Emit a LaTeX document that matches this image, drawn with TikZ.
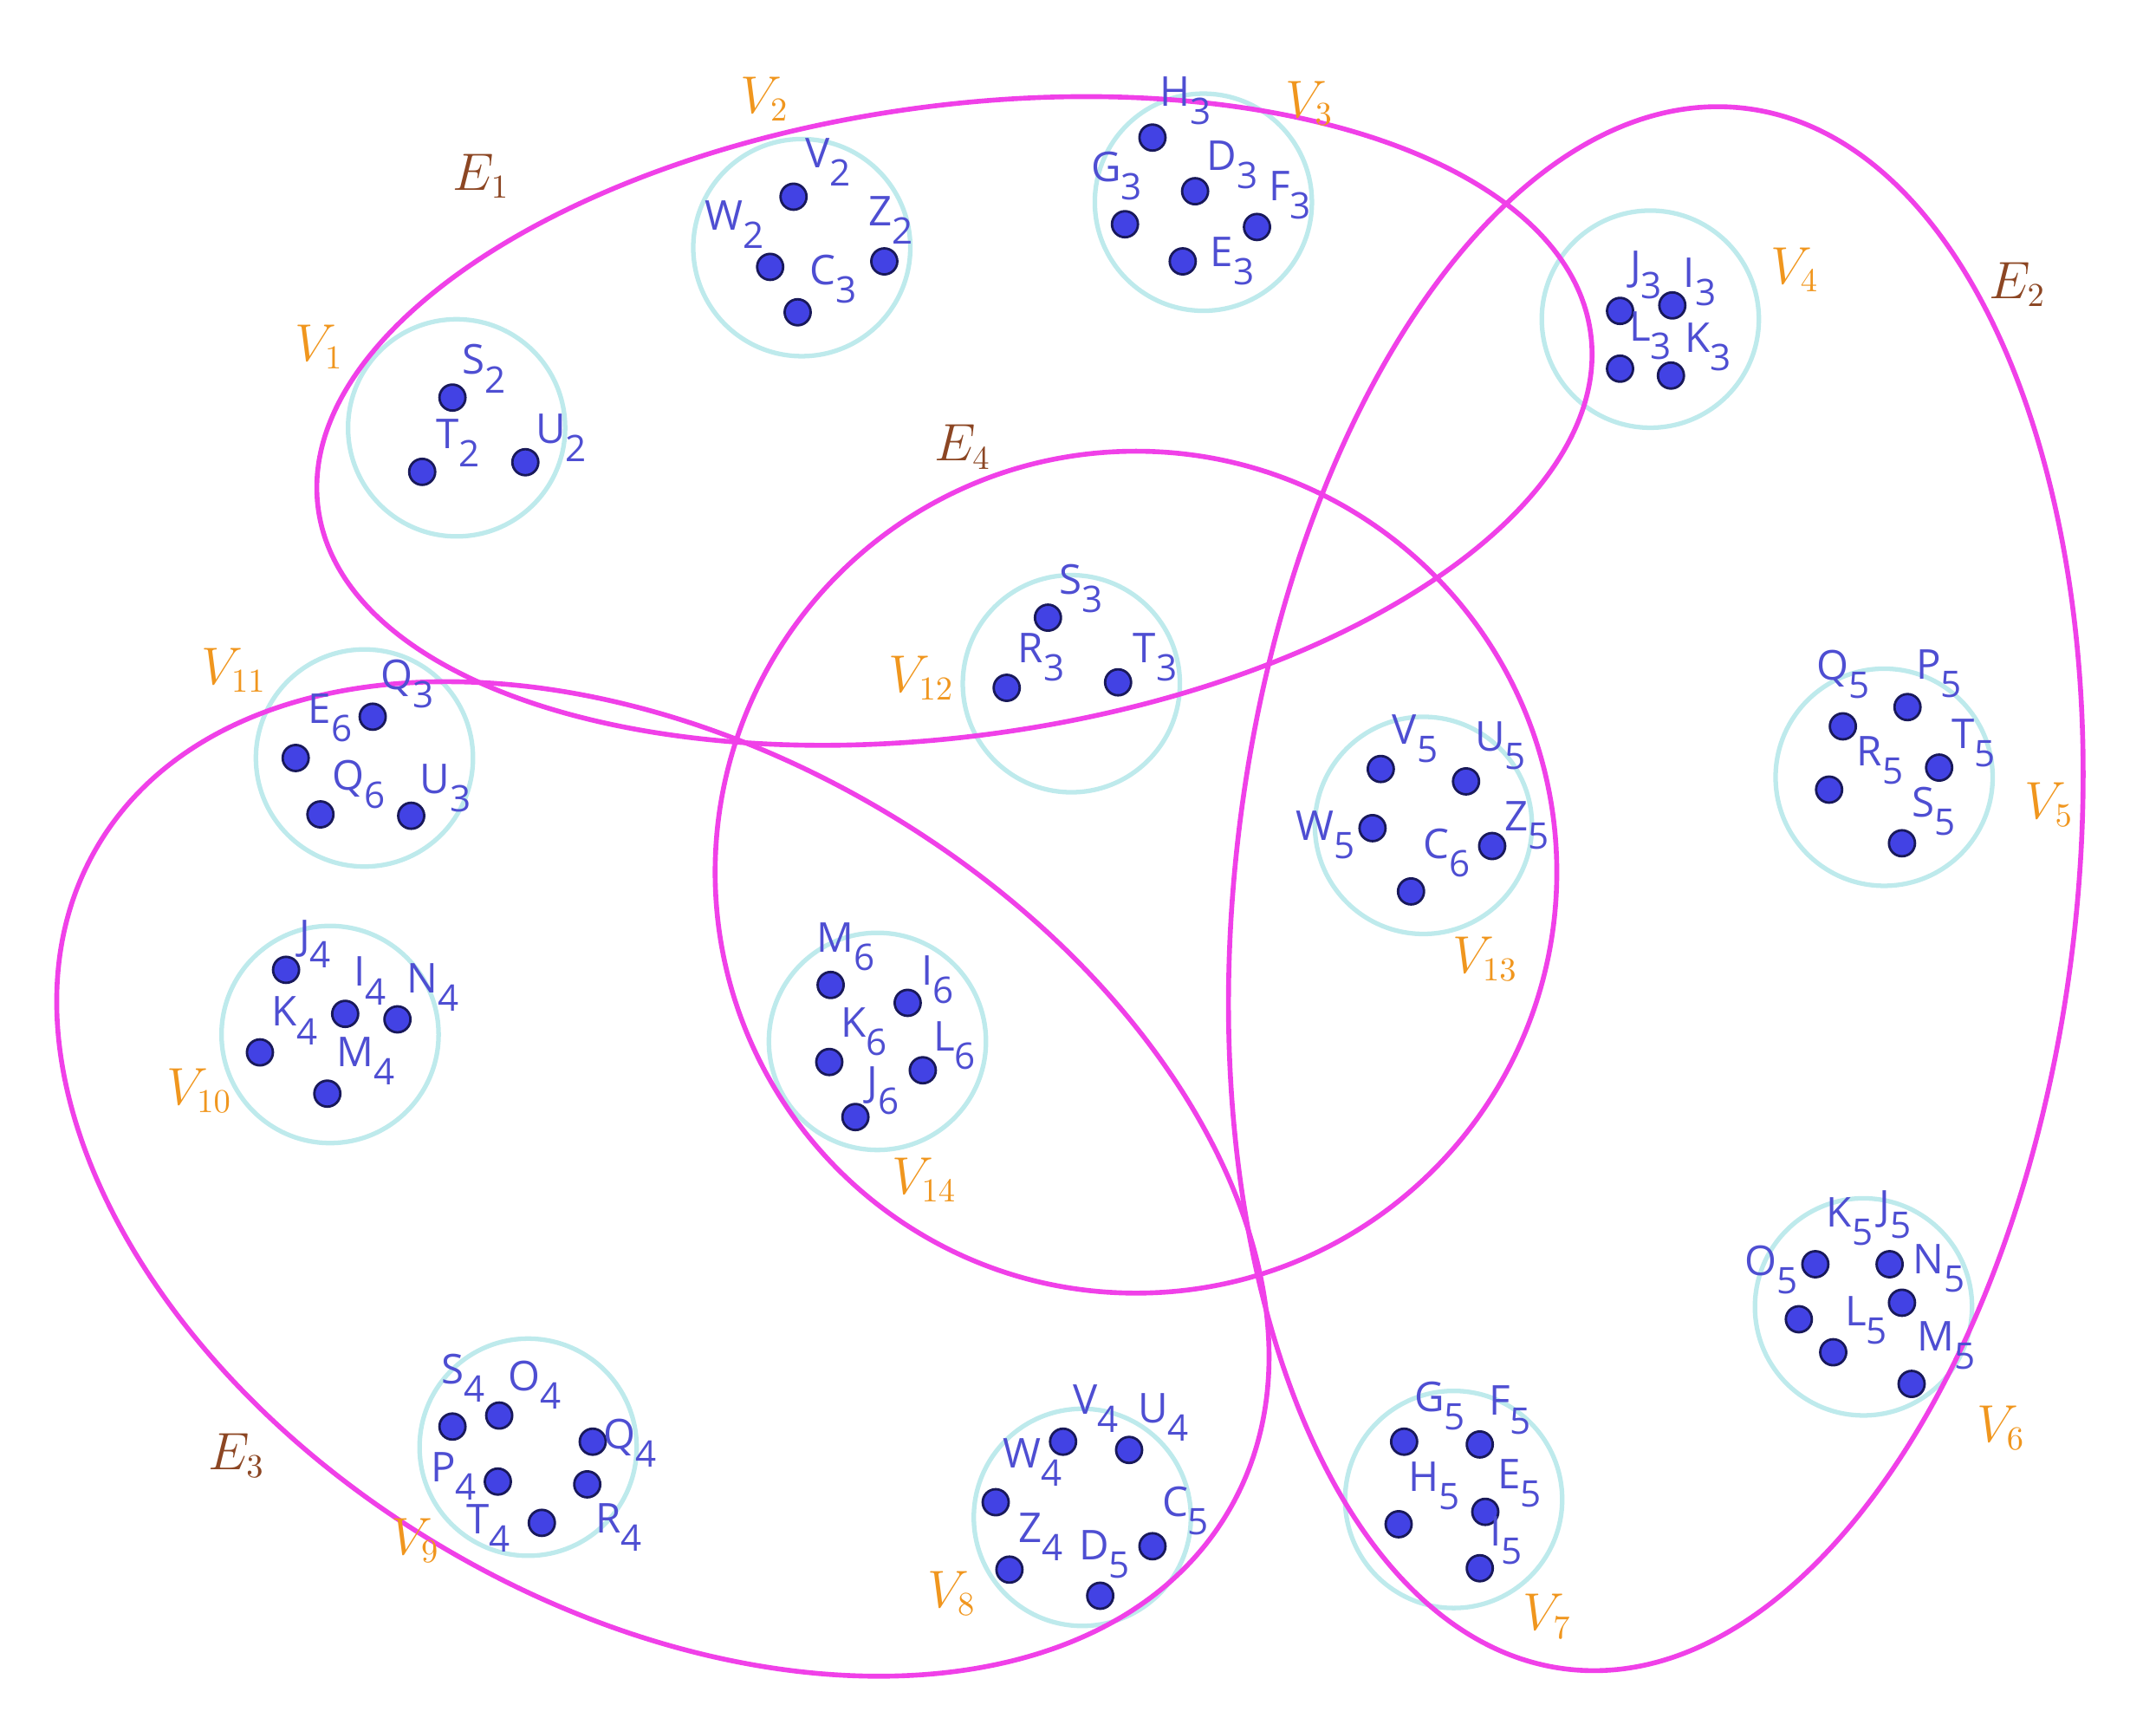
\documentclass[tikz,border=0pt]{standalone}
\usepackage{fontspec}
\setsansfont{Open Sans}
\definecolor{setcyan}{RGB}{190,234,236}
\definecolor{hypermag}{RGB}{240,64,232}
\definecolor{dotblue}{RGB}{66,66,228}
\definecolor{dotedge}{RGB}{25,25,90}
\definecolor{ptblue}{RGB}{78,78,210}
\definecolor{vorange}{RGB}{240,150,30}
\definecolor{ebrown}{RGB}{140,70,35}
\newcommand{\ptsub}[1]{\raisebox{-6pt}{\fontsize{12}{12}\selectfont #1}}

\begin{document}
\begin{tikzpicture}
[x=0.15871mm, y=-0.15871mm,
 set/.style={circle, draw=setcyan, line width=1.5pt, minimum size=25.05mm, inner sep=0pt},
 hyper/.style={draw=hypermag, line width=1.6pt},
 dot/.style={circle, fill=dotblue, draw=dotedge, line width=0.8pt, minimum size=3mm, inner sep=0pt},
 lbl/.style={text=ptblue, font=\sffamily\fontsize{13.5}{15}\selectfont, inner sep=0pt},
 vlbl/.style={text=vorange, font=\fontsize{16}{18}\selectfont, inner sep=0pt},
 elbl/.style={text=ebrown, font=\fontsize{16}{18}\selectfont, inner sep=0pt}]
\useasboundingbox (0,0) rectangle (1567.7,1248.5);

% vertex sets
\node[set] (set1) at (332,311) {};
\node[set] (set2) at (583,180) {};
\node[set] (set3) at (875,147) {};
\node[set] (set4) at (1200,232) {};
\node[set] (set5) at (1370,565) {};
\node[set] (set6) at (1355,950) {};
\node[set] (set7) at (1057,1090) {};
\node[set] (set8) at (787,1103) {};
\node[set] (set9) at (384,1052) {};
\node[set] (set10) at (240,752) {};
\node[set] (set11) at (265,551) {};
\node[set] (set12) at (779,497) {};
\node[set] (set13) at (1035,600) {};
\node[set] (set14) at (638,757) {};

% hyperedges
\draw[hyper, rotate around={7.9:(694,306)}] (694,306) ellipse [x radius=467, y radius=229];
\draw[hyper, rotate around={-6.4:(1204,646)}] (1204,646) ellipse [x radius=306, y radius=571];
\draw[hyper, rotate around={-30.4:(482,857)}] (482,857) ellipse [x radius=477, y radius=312];
\draw[hyper] (826,634) circle [radius=306];

\node[elbl] (el1) at (350,128) {$E_{1}$};
\node[elbl] (el2) at (1467,207) {$E_{2}$};
\node[elbl] (el3) at (172,1058) {$E_{3}$};
\node[elbl] (el4) at (700,325) {$E_{4}$};

\node[vlbl] (vl1) at (232,252) {$V_{1}$};
\node[vlbl] (vl2) at (556,72) {$V_{2}$};
\node[vlbl] (vl3) at (952,75) {$V_{3}$};
\node[vlbl] (vl4) at (1305,196) {$V_{4}$};
\node[vlbl] (vl5) at (1490,585) {$V_{5}$};
\node[vlbl] (vl6) at (1455,1038) {$V_{6}$};
\node[vlbl] (vl7) at (1125,1175) {$V_{7}$};
\node[vlbl] (vl8) at (692,1158) {$V_{8}$};
\node[vlbl] (vl9) at (302,1120) {$V_{9}$};
\node[vlbl] (vl10) at (145,793) {$V_{10}$};
\node[vlbl] (vl11) at (170,487) {$V_{11}$};
\node[vlbl] (vl12) at (670,493) {$V_{12}$};
\node[vlbl] (vl13) at (1080,697) {$V_{13}$};
\node[vlbl] (vl14) at (672,858) {$V_{14}$};

% V1
\node[dot] (S2) at (329,289) {};
\node[lbl] (lS2) at (352,268) {S\ptsub{2}};
\node[dot] (T2) at (307,343) {};
\node[lbl] (lT2) at (333,322) {T\ptsub{2}};
\node[dot] (U2) at (382,336) {};
\node[lbl] (lU2) at (408,318) {U\ptsub{2}};
% V2
\node[dot] (V2) at (577,143) {};
\node[lbl] (lV2) at (602,118) {V\ptsub{2}};
\node[dot] (W2) at (560,194) {};
\node[lbl] (lW2) at (534,163) {W\ptsub{2}};
\node[dot] (Z2) at (643,190) {};
\node[lbl] (lZ2) at (648,160) {Z\ptsub{2}};
\node[dot] (C3) at (580,227) {};
\node[lbl] (lC3) at (606,203) {C\ptsub{3}};
% V3
\node[dot] (H3) at (838,100) {};
\node[lbl] (lH3) at (862,73) {H\ptsub{3}};
\node[dot] (G3) at (818,163) {};
\node[lbl] (lG3) at (812,128) {G\ptsub{3}};
\node[dot] (D3) at (869,139) {};
\node[lbl] (lD3) at (896,120) {D\ptsub{3}};
\node[dot] (F3) at (914,165) {};
\node[lbl] (lF3) at (938,142) {F\ptsub{3}};
\node[dot] (E3) at (860,190) {};
\node[lbl] (lE3) at (896,190) {E\ptsub{3}};
% V4
\node[dot] (J3) at (1178,226) {};
\node[lbl] (lJ3) at (1197,200) {J\ptsub{3}};
\node[dot] (I3) at (1216,222) {};
\node[lbl] (lI3) at (1236,205) {I\ptsub{3}};
\node[dot] (L3) at (1178,268) {};
\node[lbl] (lL3) at (1200,244) {L\ptsub{3}};
\node[dot] (K3) at (1215,273) {};
\node[lbl] (lK3) at (1242,252) {K\ptsub{3}};
% V5
\node[dot] (Q5) at (1340,528) {};
\node[lbl] (lQ5) at (1340,490) {Q\ptsub{5}};
\node[dot] (P5) at (1387,514) {};
\node[lbl] (lP5) at (1410,490) {P\ptsub{5}};
\node[dot] (T5) at (1410,558) {};
\node[lbl] (lT5) at (1435,540) {T\ptsub{5}};
\node[dot] (R5) at (1330,574) {};
\node[lbl] (lR5) at (1367,553) {R\ptsub{5}};
\node[dot] (S5) at (1383,613) {};
\node[lbl] (lS5) at (1406,590) {S\ptsub{5}};
% V6
\node[dot] (K5) at (1320,919) {};
\node[lbl] (lK5) at (1345,888) {K\ptsub{5}};
\node[dot] (J5) at (1374,919) {};
\node[lbl] (lJ5) at (1378,883) {J\ptsub{5}};
\node[dot] (O5) at (1308,959) {};
\node[lbl] (lO5) at (1288,923) {O\ptsub{5}};
\node[dot] (N5) at (1383,947) {};
\node[lbl] (lN5) at (1410,922) {N\ptsub{5}};
\node[dot] (L5) at (1333,983) {};
\node[lbl] (lL5) at (1357,960) {L\ptsub{5}};
\node[dot] (M5) at (1390,1006) {};
\node[lbl] (lM5) at (1415,978) {M\ptsub{5}};
% V7
\node[dot] (G5) at (1021,1048) {};
\node[lbl] (lG5) at (1047,1022) {G\ptsub{5}};
\node[dot] (F5) at (1076,1050) {};
\node[lbl] (lF5) at (1098,1025) {F\ptsub{5}};
\node[dot] (E5) at (1080,1099) {};
\node[lbl] (lE5) at (1105,1078) {E\ptsub{5}};
\node[dot] (H5) at (1017,1108) {};
\node[lbl] (lH5) at (1043,1080) {H\ptsub{5}};
\node[dot] (I5) at (1076,1140) {};
\node[lbl] (lI5) at (1095,1120) {I\ptsub{5}};
% V8
\node[dot] (V4) at (773,1048) {};
\node[lbl] (lV4) at (797,1024) {V\ptsub{4}};
\node[dot] (U4) at (821,1054) {};
\node[lbl] (lU4) at (846,1030) {U\ptsub{4}};
\node[dot] (W4) at (724,1092) {};
\node[lbl] (lW4) at (751,1063) {W\ptsub{4}};
\node[dot] (C5) at (838,1124) {};
\node[lbl] (lC5) at (862,1098) {C\ptsub{5}};
\node[dot] (Z4) at (734,1141) {};
\node[lbl] (lZ4) at (757,1117) {Z\ptsub{4}};
\node[dot] (D5) at (800,1160) {};
\node[lbl] (lD5) at (803,1130) {D\ptsub{5}};
% V9
\node[dot] (S4) at (329,1037) {};
\node[lbl] (lS4) at (337,1002) {S\ptsub{4}};
\node[dot] (O4) at (363,1029) {};
\node[lbl] (lO4) at (389,1007) {O\ptsub{4}};
\node[dot] (Q4) at (431,1048) {};
\node[lbl] (lQ4) at (458,1049) {Q\ptsub{4}};
\node[dot] (P4) at (362,1077) {};
\node[lbl] (lP4) at (330,1073) {P\ptsub{4}};
\node[dot] (R4) at (427,1079) {};
\node[lbl] (lR4) at (450,1110) {R\ptsub{4}};
\node[dot] (T4) at (394,1107) {};
\node[lbl] (lT4) at (355,1111) {T\ptsub{4}};
% V10
\node[dot] (J4) at (208,705) {};
\node[lbl] (lJ4) at (229,686) {J\ptsub{4}};
\node[dot] (I4) at (251,737) {};
\node[lbl] (lI4) at (269,713) {I\ptsub{4}};
\node[dot] (N4) at (289,741) {};
\node[lbl] (lN4) at (315,718) {N\ptsub{4}};
\node[dot] (K4) at (189,765) {};
\node[lbl] (lK4) at (214,742) {K\ptsub{4}};
\node[dot] (M4) at (238,795) {};
\node[lbl] (lM4) at (266,771) {M\ptsub{4}};
% V11
\node[dot] (Q3) at (271,521) {};
\node[lbl] (lQ3) at (296,497) {Q\ptsub{3}};
\node[dot] (E6) at (215,551) {};
\node[lbl] (lE6) at (240,522) {E\ptsub{6}};
\node[dot] (Q6) at (233,592) {};
\node[lbl] (lQ6) at (261,570) {Q\ptsub{6}};
\node[dot] (U3) at (299,593) {};
\node[lbl] (lU3) at (324,573) {U\ptsub{3}};
% V12
\node[dot] (S3) at (762,449) {};
\node[lbl] (lS3) at (786,428) {S\ptsub{3}};
\node[dot] (R3) at (732,500) {};
\node[lbl] (lR3) at (757,478) {R\ptsub{3}};
\node[dot] (T3) at (813,496) {};
\node[lbl] (lT3) at (840,478) {T\ptsub{3}};
% V13
\node[dot] (V5) at (1004,559) {};
\node[lbl] (lV5) at (1029,537) {V\ptsub{5}};
\node[dot] (U5) at (1066,568) {};
\node[lbl] (lU5) at (1091,542) {U\ptsub{5}};
\node[dot] (W5) at (998,602) {};
\node[lbl] (lW5) at (964,607) {W\ptsub{5}};
\node[dot] (Z5) at (1085,615) {};
\node[lbl] (lZ5) at (1110,600) {Z\ptsub{5}};
\node[dot] (C6) at (1026,648) {};
\node[lbl] (lC6) at (1052,620) {C\ptsub{6}};
% V14
\node[dot] (M6) at (604,716) {};
\node[lbl] (lM6) at (615,688) {M\ptsub{6}};
\node[dot] (I6) at (660,729) {};
\node[lbl] (lI6) at (682,712) {I\ptsub{6}};
\node[dot] (K6) at (603,772) {};
\node[lbl] (lK6) at (628,750) {K\ptsub{6}};
\node[dot] (L6) at (671,778) {};
\node[lbl] (lL6) at (694,760) {L\ptsub{6}};
\node[dot] (J6) at (622,812) {};
\node[lbl] (lJ6) at (642,793) {J\ptsub{6}};
\end{tikzpicture}
\end{document}
